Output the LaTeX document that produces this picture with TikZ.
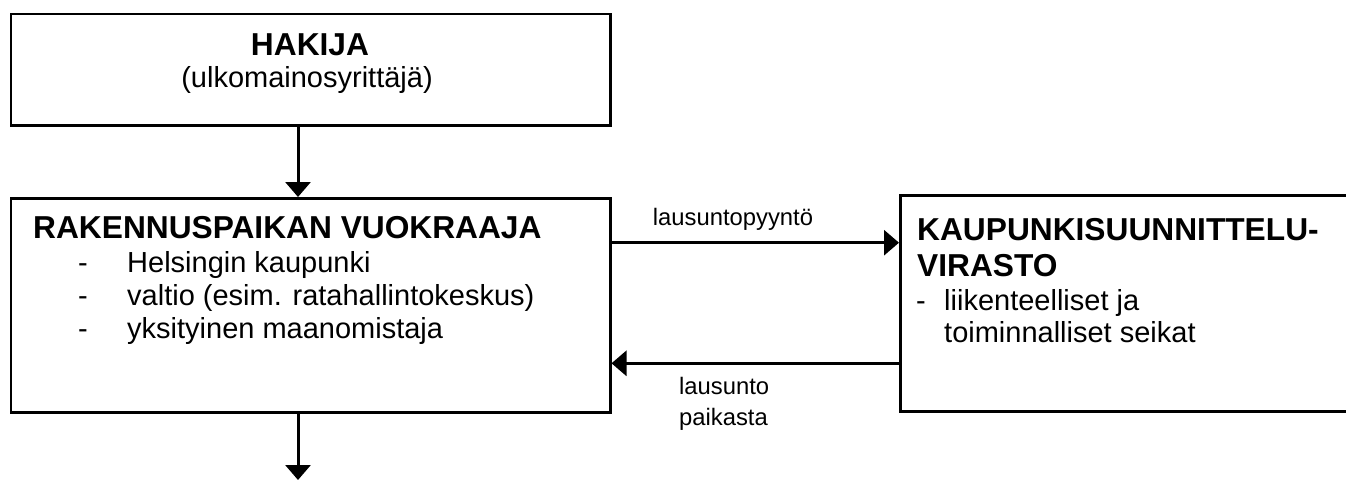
\documentclass[tikz,border=0pt]{standalone}
\usepackage{fontspec}
\setmainfont{Liberation Sans}
\usetikzlibrary{arrows.meta}
\begin{document}
\begin{tikzpicture}[x=1pt,y=-1pt,
  box/.style={draw, line width=2.5pt, inner sep=0pt, anchor=north west},
  arr/.style={line width=3pt, -{Triangle[width=25pt,length=15pt]}},
  txt/.style={inner sep=0pt, anchor=base west},
  bold/.style={font=\fontsize{31.7}{36}\selectfont\bfseries},
  reg/.style={font=\fontsize{29}{33}\selectfont},
  lab/.style={font=\fontsize{23.8}{27}\selectfont}]
\useasboundingbox (0,0) rectangle (1346,480);
\clip (0,0) rectangle (1346,480);
% boxes
\node[box, minimum width=599.5pt, minimum height=111.5pt] (hakija) at (9.5,12.5) {};
\node[box, minimum width=599.5pt, minimum height=214pt] (vuok) at (9.5,197) {};
\node[box, minimum width=480pt, minimum height=216pt] (kaup) at (899,194) {};
% texts top box
\node[inner sep=0pt, anchor=base, bold] (t1) at (310,55) {HAKIJA};
\node[inner sep=0pt, anchor=base, reg] (t2) at (307,87) {(ulkomainosyrittäjä)};
% middle box
\node[txt, bold] (v0) at (33,238) {RAKENNUSPAIKAN VUOKRAAJA};
\node[txt, reg] (d1) at (78,272) {-};
\node[txt, reg] (d2) at (78,305) {-};
\node[txt, reg] (d3) at (78,338) {-};
\node[txt, reg] (v1) at (127,272) {Helsingin kaupunki};
\node[txt, reg] (v2) at (127,305) {valtio (esim. ratahallintokeskus)};
\node[txt, reg] (v3) at (127,338) {yksityinen maanomistaja};
% right box
\node[txt, bold] (k0) at (917,240) {KAUPUNKISUUNNITTELU-};
\node[txt, bold] (k1) at (917,276) {VIRASTO};
\node[txt, reg] (kd) at (916,310) {-};
\node[txt, reg] (k2) at (944,310) {liikenteelliset ja};
\node[txt, reg] (k3) at (944,342) {toiminnalliset seikat};
% arrows
\coordinate (ax) at (298,0);
\coordinate (ay1) at (0,242.7);
\coordinate (ay2) at (0,363.3);
\coordinate (bend) at (298,480);
\draw[arr] (hakija.south -| ax) -- (vuok.north -| ax);
\draw[arr] (vuok.south -| ax) -- (bend);
\draw[arr] (vuok.east |- ay1) -- (kaup.west |- ay1);
\draw[arr] (kaup.west |- ay2) -- (vuok.east |- ay2);
% labels
\node[inner sep=0pt, anchor=base, lab] (l1) at (733,225) {lausuntopyyntö};
\node[txt, lab] (l2) at (679,394) {lausunto};
\node[txt, lab] (l3) at (679,425) {paikasta};
\end{tikzpicture}
\end{document}
